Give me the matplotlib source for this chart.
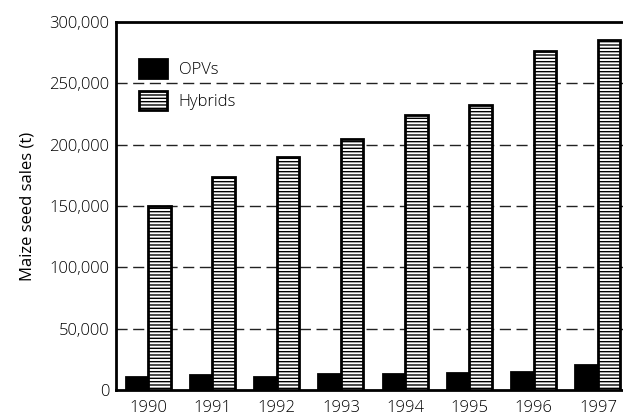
import numpy as np
import matplotlib.pyplot as plt
from matplotlib.ticker import FuncFormatter

years = ['1990', '1991', '1992', '1993', '1994', '1995', '1996', '1997']
opvs = [10500, 12000, 10800, 13000, 12800, 14000, 15000, 20000]
hybrids = [150000, 174000, 190000, 205000, 224000, 232000, 276000, 285000]

plt.rcParams['font.family'] = ['Open Sans', 'DejaVu Sans']
plt.rcParams['font.weight'] = 'light'
plt.rcParams['hatch.linewidth'] = 1.0

fig = plt.figure(figsize=(6.23, 4.17), dpi=100)
ax = fig.add_axes([116/623, 27/417, 1 - 116/623, 368/417])

x = np.arange(len(years))
w = 0.35
ax.bar(x - w/2, opvs, w, color='black', edgecolor='black', linewidth=2, label='OPVs', zorder=3)
ax.bar(x + w/2, hybrids, w, color='white', edgecolor='black', linewidth=2,
       hatch='-----', label='Hybrids', zorder=3)

ax.set_xlim(-0.5, 7.39)
ax.set_ylim(0, 300000)
ax.set_yticks(range(0, 300001, 50000))
ax.yaxis.set_major_formatter(FuncFormatter(lambda v, p: f'{int(v):,}'))
ax.set_xticks(x)
ax.set_xticklabels(years)
ax.tick_params(axis='y', length=0, labelsize=12, pad=5)
ax.tick_params(axis='x', length=0, labelsize=12, pad=7)
ax.set_ylabel('Maize seed sales (t)', fontsize=12, labelpad=10)

for y in range(50000, 300000, 50000):
    ax.axhline(y, color='#222222', linestyle=(0, (8, 4)), linewidth=1, zorder=1)

ax.spines['right'].set_visible(False)
for s in ['left', 'top', 'bottom']:
    ax.spines[s].set_linewidth(2)

ax.legend(loc='upper left', bbox_to_anchor=(0.015, 0.94), frameon=False,
          fontsize=12, handlelength=1.7, handleheight=1.4, labelspacing=0.75,
          handletextpad=0.7)

fig.savefig('out.png', dpi=100)
